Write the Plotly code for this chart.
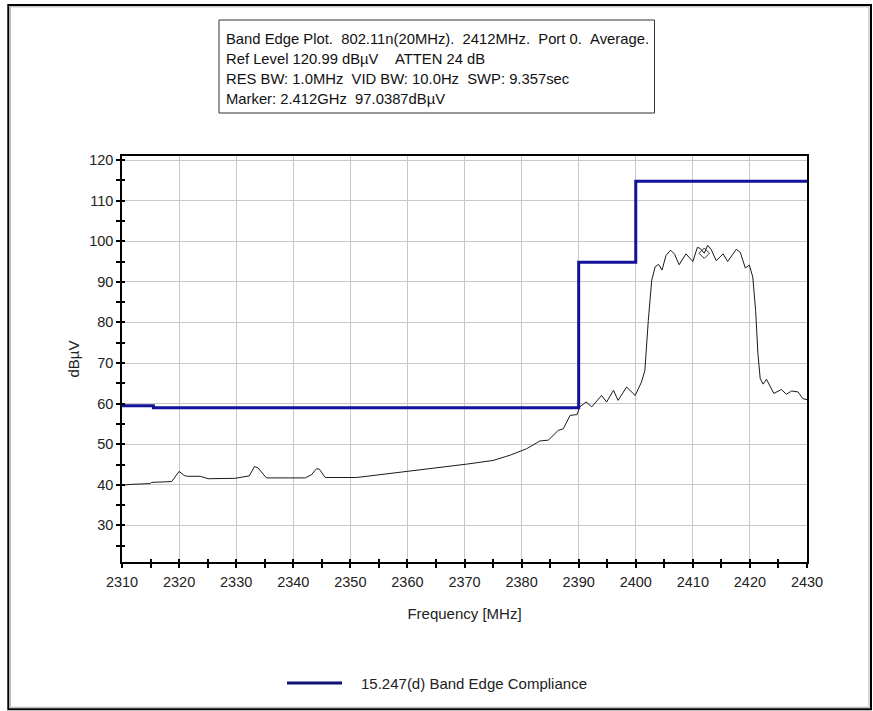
import plotly.graph_objects as go

# Measured spectrum trace (average detector)
freq_mhz = [
    2310.0, 2311.4, 2314.9, 2315.2, 2318.7, 2319.3, 2320.0, 2320.9, 2321.4, 2323.7,
    2325.1, 2329.8, 2331.8, 2332.3, 2333.2, 2333.8, 2335.3, 2342.1, 2343.2, 2344.1,
    2344.6, 2345.6, 2351.1, 2355.2, 2360.5, 2365.7, 2370.4, 2375.0, 2378.0, 2380.9,
    2383.2, 2384.7, 2386.4, 2387.3, 2388.5, 2389.7, 2390.2, 2391.3, 2392.3, 2394.0,
    2394.9, 2396.1, 2396.9, 2398.4, 2399.9, 2401.0, 2401.6, 2402.2, 2402.8, 2403.4,
    2404.0, 2404.6, 2405.3, 2406.1, 2406.8, 2407.6, 2408.8, 2410.0, 2410.8, 2411.3,
    2412.0, 2412.6, 2413.2, 2414.1, 2415.3, 2416.1, 2417.6, 2418.3, 2419.2, 2419.9,
    2420.5, 2421.0, 2421.4, 2421.8, 2422.3, 2422.9, 2424.2, 2425.5, 2426.4, 2427.3,
    2428.4, 2429.3, 2430.0,
]
level_dbuv = [
    39.9, 40.1, 40.3, 40.6, 40.8, 42.0, 43.3, 42.3, 42.1, 42.1,
    41.5, 41.6, 42.0, 42.2, 44.5, 44.2, 41.7, 41.7, 42.5, 44.0,
    43.8, 41.8, 41.8, 42.5, 43.3, 44.2, 45.1, 46.0, 47.3, 48.9,
    50.8, 51.0, 53.4, 53.8, 57.1, 57.3, 59.2, 60.4, 59.2, 62.0,
    60.4, 63.3, 60.8, 64.1, 62.0, 65.3, 68.2, 80.5, 90.4, 93.7,
    94.3, 92.9, 96.5, 97.8, 96.8, 94.2, 96.9, 95.0, 98.5, 98.2,
    97.04, 99.0, 98.0, 95.2, 96.9, 95.0, 98.0, 97.3, 93.4, 94.1,
    91.2, 82.9, 72.3, 66.2, 64.8, 66.0, 62.5, 63.5, 62.3, 63.1,
    62.9, 61.2, 61.0,
]

# 15.247(d) band edge limit, stepped
limit_freq_mhz = [2310.0, 2315.5, 2390.0, 2400.0, 2430.0]
limit_level_dbuv = [59.5, 59.0, 94.8, 114.8, 114.8]

# Marker readout
marker_freq_mhz = [2412.0]
marker_level_dbuv = [97.0387]

x_ticks = list(range(2310, 2431, 10))
y_ticks = list(range(30, 121, 10))
x_range = [2310, 2430]
y_range = [20.99, 120.99]

info_lines = [
    "Band Edge Plot.  802.11n(20MHz).  2412MHz.  Port 0.  Average.",
    "Ref Level 120.99 dB\u00b5V    ATTEN 24 dB",
    "RES BW: 1.0MHz  VID BW: 10.0Hz  SWP: 9.357sec",
    "Marker: 2.412GHz  97.0387dB\u00b5V",
]
legend_label = "15.247(d) Band Edge Compliance"
x_title = "Frequency [MHz]"
y_title = "dB\u00b5V"

LIMIT_COLOR = "#12129a"
TRACE_COLOR = "#1a1a1a"
TEXT_FONT = "Liberation Sans, Arial, sans-serif"

W, H = 873, 711
ML, MR, MT, MB = 122, 66, 156, 149
PW, PH = W - ML - MR, H - MT - MB


def px_x(px):
    return (px - ML) / PW


def px_y(py):
    return (H - MB - py) / PH


fig = go.Figure()

fig.add_trace(go.Scatter(
    x=freq_mhz, y=level_dbuv, mode="lines",
    line=dict(color=TRACE_COLOR, width=1),
    showlegend=False, hoverinfo="x+y",
))
fig.add_trace(go.Scatter(
    x=limit_freq_mhz, y=limit_level_dbuv, mode="lines",
    line=dict(color=LIMIT_COLOR, width=3, shape="hv"),
    name=legend_label, showlegend=False,
))
fig.add_trace(go.Scatter(
    x=marker_freq_mhz, y=marker_level_dbuv, mode="markers",
    marker=dict(symbol="diamond-open", size=8, color="#333333", line=dict(width=1)),
    showlegend=False,
))
# companion axes carry the inner half of each tick mark
fig.add_trace(go.Scatter(x=[], y=[], xaxis="x2", yaxis="y2", showlegend=False))

axis_common = dict(
    showline=True, linecolor="black", linewidth=1.5, mirror=True,
    showgrid=True, gridcolor="#c8c8c8", gridwidth=1, zeroline=False,
    ticks="outside", ticklen=4, tickcolor="black", tickwidth=1.5,
    tickfont=dict(family=TEXT_FONT, size=14.5, color="#222222"),
)

fig.update_layout(
    width=W, height=H, autosize=False,
    margin=dict(l=ML, r=MR, t=MT, b=MB),
    paper_bgcolor="white", plot_bgcolor="white",
    xaxis=dict(
        range=x_range, tickvals=x_ticks, **axis_common,
        ticklabelstandoff=2,
        minor=dict(dtick=5, tick0=2310, ticks="outside", ticklen=4,
                   tickcolor="black", tickwidth=1.5, showgrid=False),
        title=dict(text=x_title, font=dict(family=TEXT_FONT, size=15, color="#222222"),
                   standoff=19),
    ),
    yaxis=dict(
        range=y_range, tickvals=y_ticks, **axis_common,
        ticklabelstandoff=0,
        minor=dict(dtick=5, tick0=25, ticks="outside", ticklen=4,
                   tickcolor="black", tickwidth=1.5, showgrid=False),
        title=dict(text=y_title, font=dict(family=TEXT_FONT, size=15, color="#222222"),
                   standoff=6),
    ),
    xaxis2=dict(
        range=x_range, overlaying="x", anchor="y2", side="bottom",
        tickvals=x_ticks, ticks="inside", ticklen=3, tickcolor="black", tickwidth=1.5,
        showticklabels=False, showgrid=False, showline=False, zeroline=False,
        minor=dict(dtick=5, tick0=2310, ticks="inside", ticklen=3,
                   tickcolor="black", tickwidth=1.5, showgrid=False),
    ),
    yaxis2=dict(
        range=y_range, overlaying="y", anchor="x2", side="left",
        tickvals=y_ticks, ticks="inside", ticklen=3, tickcolor="black", tickwidth=1.5,
        showticklabels=False, showgrid=False, showline=False, zeroline=False,
        minor=dict(dtick=5, tick0=25, ticks="inside", ticklen=3,
                   tickcolor="black", tickwidth=1.5, showgrid=False),
    ),
    showlegend=False,
)

shapes = [
    # outer frame
    dict(type="rect", xref="paper", yref="paper",
         x0=px_x(8.3), x1=px_x(871), y0=px_y(709.3), y1=px_y(5),
         line=dict(color="black", width=2), fillcolor="rgba(0,0,0,0)", layer="below"),
    dict(type="rect", xref="paper", yref="paper",
         x0=px_x(10.3), x1=px_x(869), y0=px_y(707.3), y1=px_y(6.8),
         line=dict(color="#b0b0b0", width=1), fillcolor="rgba(0,0,0,0)", layer="below"),
    # info box
    dict(type="rect", xref="paper", yref="paper",
         x0=px_x(219), x1=px_x(654.5), y0=px_y(113), y1=px_y(20),
         line=dict(color="#333333", width=1), fillcolor="white"),
    # legend sample line
    dict(type="line", xref="paper", yref="paper",
         x0=px_x(287), x1=px_x(342), y0=px_y(683), y1=px_y(683),
         line=dict(color="#101070", width=3)),
]

annotations = []
for i, line in enumerate(info_lines):
    annotations.append(dict(
        xref="paper", yref="paper", x=px_x(223.5), y=px_y(38.5 + 20.1 * i),
        xanchor="left", yanchor="middle", showarrow=False, align="left",
        text=line.replace(" ", "\u00a0"),
        font=dict(family=TEXT_FONT, size=14.8, color="#111111"),
    ))
annotations.append(dict(
    xref="paper", yref="paper", x=px_x(359), y=px_y(683),
    xanchor="left", yanchor="middle", showarrow=False,
    text=legend_label, font=dict(family=TEXT_FONT, size=15, color="#222222"),
))

fig.update_layout(shapes=shapes, annotations=annotations)

fig.write_html("out.html")
